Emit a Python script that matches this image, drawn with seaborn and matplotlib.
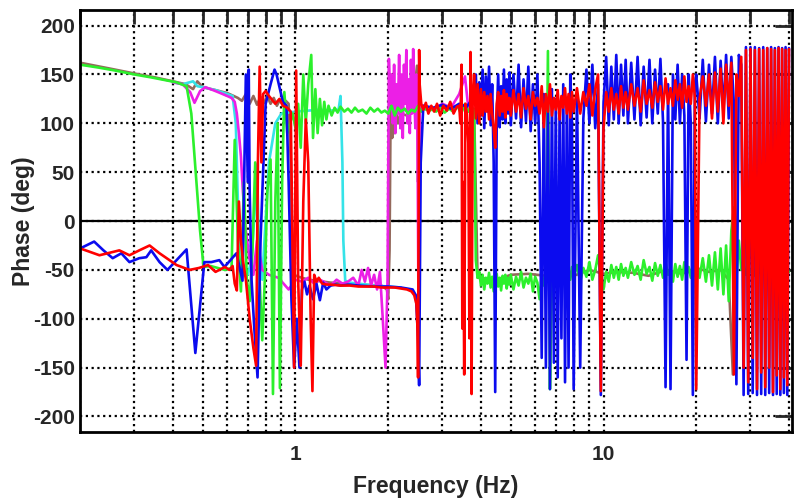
import matplotlib
matplotlib.use('Agg')
import matplotlib.pyplot as plt
from matplotlib.ticker import FixedLocator, NullFormatter, MultipleLocator
import seaborn as sns

# shared frequency bins of the high-frequency part (Hz)
f_hi = [3.80, 3.85, 3.90, 3.95, 4.00, 4.05, 4.10, 4.15, 4.20, 4.25, 4.30, 4.35,
        4.40, 4.45, 4.50, 4.55, 4.60, 4.65, 4.70, 4.75, 4.80, 4.85, 4.90, 4.95,
        5.0, 5.1, 5.2, 5.3, 5.4, 5.5, 5.6, 5.7, 5.8, 5.9, 6.0, 6.1, 6.2, 6.3, 6.4,
        6.5, 6.6, 6.7, 6.8, 6.9, 7.0, 7.1, 7.2, 7.3, 7.4, 7.5, 7.6, 7.7, 7.8, 7.9,
        8.0, 8.2, 8.4, 8.6, 8.8, 9.0, 9.2, 9.4, 9.6, 9.8, 10.0, 10.2, 10.4, 10.6,
        10.8, 11.0, 11.2, 11.4, 11.6, 11.8,
        12.0, 12.3, 12.6, 12.9, 13.2, 13.5, 13.8, 14.1, 14.4, 14.7, 15.0, 15.3,
        15.6, 15.9, 16.2, 16.5, 16.8, 17.1, 17.4, 17.7, 18.0, 18.3, 18.6, 18.9,
        19.2, 19.5, 19.8,
        20.0, 20.5, 21.0, 21.5, 22.0, 22.5, 23.0, 23.5, 24.0, 24.5, 25.0, 25.5,
        26.0, 26.5, 27.0, 27.5, 28.0, 28.5, 29.0, 29.5, 30.0, 30.5, 31.0, 31.5,
        32.0, 32.5, 33.0, 33.5, 34.0, 34.5, 35.0, 35.5, 36.0, 36.5, 37.0, 37.5,
        38.0, 38.5, 39.0, 39.5, 40.0]

# red
f_red_lo = [0.20, 0.231, 0.268, 0.289, 0.311, 0.336, 0.362, 0.411, 0.453, 0.486,
            0.52, 0.55, 0.59, 0.61, 0.625, 0.635, 0.645, 0.655, 0.665, 0.675,
            0.69, 0.71, 0.73, 0.745, 0.755, 0.765, 0.775, 0.785, 0.80, 0.82,
            0.84, 0.86, 0.887, 0.91, 0.94, 0.965, 0.99, 1.005, 1.02, 1.04,
            1.06, 1.08, 1.10, 1.12, 1.135, 1.15, 1.17, 1.19, 1.22, 1.26,
            1.30, 1.40, 1.50, 1.60, 1.70, 1.80, 1.90, 2.00, 2.10, 2.20,
            2.30, 2.38, 2.43, 2.47, 2.49, 2.50, 2.51, 2.52, 2.53, 2.56,
            2.60, 2.65, 2.70, 2.76, 2.82, 2.88, 2.95, 3.02, 3.10, 3.18,
            3.26, 3.34, 3.40, 3.43, 3.46, 3.48, 3.50, 3.53, 3.56, 3.60,
            3.64, 3.67, 3.70, 3.73, 3.76]
p_red_lo = [-28, -35, -30, -35, -30, -25, -33, -45, -50, -48,
            -45, -52, -47, -50, -46, -64, -71, 20, -20, -40,
            -60, -100, -130, -148, 60, 158, 60, 130, 133, 128,
            124, 120, 125, 118, 116, 112, -150, 154, -60, -148,
            20, 104, 60, -100, -174, -55, -62, -58, -64, -65,
            -65, -66, -66, -67, -67, -67, -68, -68, -68, -69,
            -70, -72, -76, -85, -110, -160, 20, 175, 140, 120,
            114, 121, 110, 118, 112, 120, 108, 118, 113, 122,
            110, 117, 118, 100, 160, -110, 40, -157, 120, 110,
            80, -120, 173, -177, 130]
p_red_hi = [150, 105, 140, 100, 135, 108, 132, 112, 128, 104, 130, 110, 95, 75,
            120, 132, 108, 128, 112, 134, 106, 130, 114, 126,
            108, 134, 112, 130, 106, 136, 115, 128, 104, 132, 118, 126, 110, 138,
            96, 130, 112, 140, 108, 126, 114, 134, 104, 128, 116, 136, 110, 130,
            106, 132,
            112, 136, 110, 132, 118, 140, 108, 135, 150, -174, 95, 132, 112, 136,
            114, 130, 110, 138, 116, 132,
            114, 140, 118, 136, 112, 144, 120, 134, 116, 142, 122, 138, 114, 146,
            120, 136, 118, 144, 124, 140, 116, 148, 122, 138, 120, 150, 126,
            -172, 125, 148, 118, 150, 105, 152, 112, 156, 100, 160, 118, 162, -157,
            150, 128, 168, -150, 175, -165, 176, -140, 175, -172, 176, -155, 175,
            -170, 177, -150, 176, -175, 175, -158, 177, -172, 176, -160, 175, -168,
            176]

# blue
f_blue_lo = [0.20, 0.222, 0.238, 0.255, 0.272, 0.289, 0.311, 0.328, 0.34, 0.362,
             0.384, 0.411, 0.443, 0.473, 0.506, 0.533, 0.566, 0.588, 0.643, 0.673,
             0.69, 0.70, 0.705, 0.71, 0.72, 0.735, 0.753, 0.77, 0.80, 0.83,
             0.855, 0.868, 0.89, 0.91, 0.935, 0.95, 0.97, 0.99, 1.01, 1.03,
             1.05, 1.07, 1.09, 1.11, 1.14, 1.17, 1.20, 1.23, 1.26, 1.30,
             1.35, 1.40, 1.50, 1.60, 1.80, 2.00, 2.20, 2.40, 2.46, 2.50,
             2.52, 2.55, 2.60, 2.80, 3.00, 3.20, 3.40, 3.60, 3.75]
p_blue_lo = [-28, -21, -30, -38, -33, -42, -38, -37, -30, -42,
             -50, -40, -29, -135, -42, -42, -40, -47, -33, -61,
             150, 40, 155, 30, -60, -110, -160, -20, 120, 140,
             155, 150, 135, 122, 118, 40, -80, -150, -100, -150,
             -70, -62, -75, -66, -80, -64, -81, -63, -70, -66,
             -65, -66, -65, -66, -67, -67, -68, -70, -76, -120,
             -168, 60, 118, 116, 119, 115, 120, 117, 125]
p_blue_hi = [125, 150, 100, 142, 108, 155, 95, 148, 112, 158, 98, 140, 60, -175,
             100, 150, 96, 138, 104, 155, 100, 145, 110, 152,
             98, 150, 105, 160, 96, 145, 102, 158, 92, 140, 100, 150, 60, -140,
             130, -150, 120, -172, 135, -145, 125, -160, 110, -120, 140, -165,
             120, -150, 150, 100,
             -172, 130, -150, 105, 155, 100, 160, 95, 140, -178, 120, 168, 98, 158,
             104, 170, 100, 160, 108, 165,
             100, 162, 104, 168, 98, 158, 106, 165, 100, 155, 110, 166, 102, -170,
             140, -172, 150, 104, 160, 100, 150, 108, -142, 150, 100, -178, 140,
             150, 105, 165, 102, 160, 110, 168, 100, 164, 112, 170, 105, 168, 120,
             -167, 170, 160, -178, 178, -177, 178, -176, 178, -178, 177, -177, 178,
             -178, 177, -176, 178, -178, 177, -177, 178, -178, 177, -176, 178, -178,
             177]

# green
f_green_lo = [0.20, 0.23, 0.26, 0.30, 0.34, 0.38, 0.41, 0.443, 0.459, 0.477,
              0.49, 0.503, 0.53, 0.56, 0.59, 0.62, 0.635, 0.65, 0.665, 0.68,
              0.695, 0.71, 0.725, 0.74, 0.76, 0.78, 0.795, 0.81, 0.83, 0.845,
              0.86, 0.875, 0.89, 0.905, 0.92, 0.94, 0.96, 0.98, 1.0, 1.02,
              1.04, 1.06, 1.08, 1.10, 1.125, 1.14, 1.16, 1.18, 1.20, 1.22,
              1.24, 1.26, 1.28, 1.31, 1.34, 1.37, 1.40, 1.44, 1.48, 1.52,
              1.56, 1.60, 1.65, 1.70, 1.75, 1.80, 1.85, 1.90, 1.95, 2.00,
              2.05, 2.10, 2.15, 2.20, 2.26, 2.32, 2.38, 2.44, 2.50, 2.56,
              2.62, 2.70, 2.78, 2.86, 2.95, 3.05, 3.15, 3.25, 3.35, 3.45,
              3.55, 3.65, 3.75]
p_green_lo = [160, 157, 154, 150, 147, 144, 142, 138, 110, 40,
              -10, -47, -46, -48, -50, -48, 83, -20, -72, 40,
              -60, -82, -30, 60, -40, -122, -60, 30, 63, -177,
              20, 100, -171, 40, 132, 90, 100, 110, 95, 120,
              75, 150, 100, 140, 170, 85, 135, 90, 125, 98,
              122, 104, 118, 108, 116, 111, 117, 112, 115, 111,
              116, 112, 114, 110, 116, 112, 115, 111, 113, 110,
              118, 108, 116, 112, 115, 110, 114, 112, 118, 112,
              115, 113, 114, 112, 116, 111, 115, 112, 118, 110,
              120, 112, 115]
p_green_hi = [112, -40, -58, -52, -66, -55, -70, -58, -64, -53, -68, -57, -72, -60,
              -54, -67, -58, -71, -56, -64, -55, -69, -58, -65,
              -55, -70, -57, -66, -52, -68, -58, -64, -54, -72, -57, -63, -80, -55,
              -66, -52, 174, -172, -60, -50, -64, -55, -62, -48, -60, -52, -66, -50,
              -60, -47,
              -58, -45, -62, -48, -57, -42, -60, -50, -35, -58, -70, -52, -62, -45,
              -58, -47, -60, -44, -56, -48,
              -58, -42, -55, -46, -60, -40, -54, -47, -61, -43, -56, -45, -58, -42,
              -55, -48, -62, -44, -57, -46, -60, -42, -55, -47, -58, -44, -56,
              -40, -58, -38, -62, -35, -66, -32, -70, -28, -75, -25, -82, -10, 14,
              -60, -20, -50, -45, -55, -48, -52, -46, -56, -50, -53, -47, -55, -49,
              -52, -46, -54, -50, -53, -48, -55, -50, -52, -47, -54, -50, -52]

# magenta
f_mag = [0.40, 0.43, 0.455, 0.47, 0.49, 0.51, 0.54, 0.57, 0.60, 0.62,
         0.635, 0.645, 0.655, 0.665, 0.675, 0.69, 0.71, 0.73, 0.75, 0.76,
         0.78, 0.82, 0.88, 0.95, 1.0, 1.05, 1.10, 1.15, 1.2, 1.25,
         1.3, 1.36, 1.42, 1.48, 1.54, 1.60, 1.64, 1.68, 1.72, 1.76,
         1.80, 1.84, 1.88, 1.92, 1.96, 1.99, 2.01, 2.03, 2.05, 2.07,
         2.09, 2.11, 2.13, 2.15, 2.17, 2.19, 2.21, 2.23, 2.25, 2.27,
         2.29, 2.31, 2.33, 2.35, 2.37, 2.39, 2.41, 2.43, 2.45, 2.47,
         2.49, 2.51, 2.53, 2.56, 2.60, 2.8, 3.0, 3.2, 3.4, 3.55,
         3.65, 3.75]
p_mag = [142, 140, 132, 121, 133, 137, 134, 131, 128, 126,
         122, 110, 90, 66, 30, -10, -40, -55, -20, -30,
         -50, -55, -58, -70, -60, -62, -58, -64, -60, -63,
         -66, -60, -64, -62, -58, -66, -50, -62, -48, -66,
         -55, -70, -52, -100, -150, -60, 166, 120, 150, 100,
         160, 90, 140, 110, 170, 95, 150, 85, 160, 120,
         175, 100, 145, 90, 165, 110, 176, 130, 95, 150,
         80, -110, 120, 115, 118, 114, 120, 116, 130, 148,
         112, 118]

# cyan
f_cyan = [0.40, 0.43, 0.465, 0.48, 0.50, 0.55, 0.60, 0.625, 0.64, 0.65,
          0.66, 0.68, 0.70, 0.72, 0.74, 0.75, 0.76, 0.78, 0.82, 0.86,
          0.90, 1.0, 1.1, 1.2, 1.3, 1.38, 1.40, 1.42, 1.43, 1.45,
          1.5, 1.6, 1.8, 2.0, 2.2]
p_cyan = [142, 140, 143, 138, 137, 134, 130, 128, 100, 20,
          -50, -52, -55, -40, 20, 58, -20, -60, 60, 100,
          110, 112, 113, 114, 113, 114, 128, 60, -20, -61,
          -63, -64, -66, -67, -68]

# brown
f_brown = [0.20, 0.25, 0.30, 0.35, 0.40, 0.44, 0.465, 0.48, 0.50, 0.55,
           0.60, 0.63, 0.65, 0.67, 0.69, 0.71, 0.73, 0.75, 0.77, 0.79,
           0.81, 0.83, 0.85, 0.87, 0.89, 0.91, 0.93, 0.95, 0.965, 0.98,
           1.0, 1.1, 1.3, 1.6, 1.9, 1.98, 2.0, 2.02, 2.04, 2.06,
           2.08, 2.10, 2.12, 2.15, 2.2, 2.3, 2.4, 2.48, 2.5, 2.52,
           2.6, 3.0, 3.5, 3.8, 3.9, 4.5, 5.0, 5.7, 6.5, 7.3,
           8.0, 9.0, 10.0, 11.0, 12.5, 14.0, 16.0, 18.0, 20.0, 22.0,
           24.0, 25.5, 26.3, 26.6, 27.0]
p_brown = [162, 156, 151, 147, 143, 140, 135, 143, 137, 134,
           131, 128, 126, 123, 130, 120, 128, 119, 127, 121,
           128, 120, 126, 118, 124, 119, 123, 120, 60, -52,
           -56, -60, -63, -65, -66, -70, -80, -30, 150, 85,
           140, 90, 120, 100, 110, 108, 115, 159, 40, 118,
           115, 116, 117, 115, -58, -60, -55, -54, -56, -52,
           -56, -50, -54, -52, -53, -56, -50, -54, -48, -52,
           -50, -60, -157, -60, -50]

y_ticks = [-200, -150, -100, -50, 0, 50, 100, 150, 200]
x_major = [1, 10]
x_minor = [0.2, 0.3, 0.4, 0.5, 0.6, 0.7, 0.8, 0.9, 2, 3, 4, 5, 6, 7, 8, 9, 20, 30, 40]

sns.set_style('white')
plt.rcParams['font.family'] = ['Liberation Sans', 'DejaVu Sans']
plt.rcParams['font.weight'] = 'bold'
plt.rcParams['axes.unicode_minus'] = False

fig = plt.figure(figsize=(7.94, 4.99), dpi=100)
ax = fig.add_axes([0.101, 0.134, 0.896, 0.846])
ax.set_xscale('log')

series = [
    (f_brown, p_brown, '#94695c'),
    (f_cyan, p_cyan, '#35e3e8'),
    (f_mag, p_mag, '#ec1fe6'),
    (f_green_lo + f_hi, p_green_lo + p_green_hi, '#2cf02c'),
    (f_blue_lo + f_hi, p_blue_lo + p_blue_hi, '#0b0bef'),
    (f_red_lo + f_hi, p_red_lo + p_red_hi, '#ff0000'),
]
for f, p, c in series:
    sns.lineplot(x=f, y=p, ax=ax, color=c, linewidth=1.9,
                 sort=False, estimator=None)

ax.set_xlim(0.2, 40.8)
ax.set_ylim(-216, 216)

# dotted grid + solid zero line
ax.xaxis.set_major_locator(FixedLocator(x_major))
ax.xaxis.set_minor_locator(FixedLocator(x_minor))
ax.xaxis.set_minor_formatter(NullFormatter())
ax.set_xticklabels(['1', '10'])
ax.set_yticks(y_ticks)
ax.yaxis.set_minor_locator(MultipleLocator(10))
ax.set_axisbelow(True)
ax.xaxis.grid(True, which='both', color='k', lw=1.6, ls=(0, (1, 1.6)))
ax.yaxis.grid(True, which='major', color='k', lw=1.6, ls=(0, (1, 1.6)))
ax.axhline(0, color='k', lw=1.6, zorder=1.5)

ax.tick_params(axis='y', which='major', direction='in', length=12, width=2,
               right=True, labelsize=15, pad=4)
ax.tick_params(axis='y', which='minor', direction='in', length=7, width=1.5)
ax.tick_params(axis='x', which='major', direction='in', length=14, width=2,
               top=True, labelsize=15, pad=9)
ax.tick_params(axis='x', which='minor', direction='in', length=10, width=2,
               top=True)
for s in ax.spines.values():
    s.set_linewidth(2)
    s.set_color('k')

ax.set_xlabel('Frequency (Hz)', fontsize=16.5, fontweight='bold', labelpad=8)
ax.set_ylabel('Phase (deg)', fontsize=16.5, fontweight='bold', labelpad=-2)

fig.savefig('out.png', dpi=100)
